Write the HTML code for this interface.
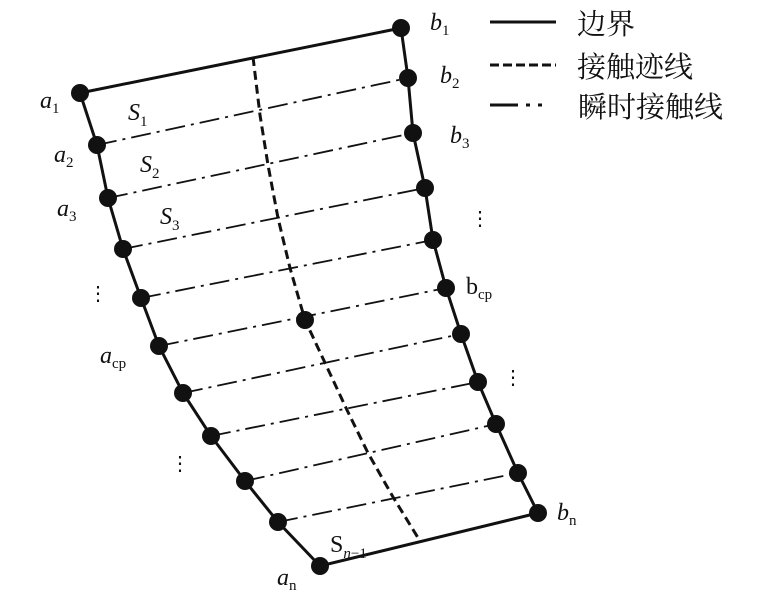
<!DOCTYPE html>
<html><head><meta charset="utf-8"><style>
html,body{margin:0;padding:0;background:#fff;}
svg{display:block}
.l{font-family:"Liberation Serif",serif;font-style:italic;font-size:24px;fill:#111}
.s{font-size:15px;font-style:normal}
.c{font-family:"Liberation Serif","Noto Serif CJK SC",serif;font-size:29px;fill:#111}
</style></head><body>
<svg width="764" height="598" viewBox="0 0 764 598">
<g stroke="#111" fill="none">
<polyline stroke-width="3" points="80,93 97,145 108,198 123,249 141,298 159,346 183,393 211,436 245,481 278,522 320,566 538,513 518,473 496,424 478,382 461,334 446,288 433,240 425,188 413,133 408,78 401,28 80,93"/>
<polyline stroke-width="3" stroke-dasharray="9,5" points="253,57 260,115 268,165 278,218 290,268 305,320 347,410 368,453 393,497 420,541"/>
<g stroke-width="1.8" stroke-dasharray="20,6,3,6">
<line x1="97" y1="145" x2="408" y2="78"/>
<line x1="108" y1="198" x2="413" y2="133"/>
<line x1="123" y1="249" x2="425" y2="188"/>
<line x1="141" y1="298" x2="433" y2="240"/>
<line x1="159" y1="346" x2="446" y2="288"/>
<line x1="183" y1="393" x2="461" y2="334"/>
<line x1="211" y1="436" x2="478" y2="382"/>
<line x1="245" y1="481" x2="496" y2="424"/>
<line x1="278" y1="522" x2="518" y2="473"/>
</g>
<line x1="490" y1="22" x2="556" y2="22" stroke-width="3"/>
<line x1="490" y1="65" x2="556" y2="65" stroke-width="3" stroke-dasharray="9,4"/>
<line x1="490" y1="105" x2="556" y2="105" stroke-width="3" stroke-dasharray="28,8,4,8,4,20"/>
</g>
<g fill="#111">
<circle cx="80" cy="93" r="9"/><circle cx="97" cy="145" r="9"/><circle cx="108" cy="198" r="9"/><circle cx="123" cy="249" r="9"/><circle cx="141" cy="298" r="9"/><circle cx="159" cy="346" r="9"/><circle cx="183" cy="393" r="9"/><circle cx="211" cy="436" r="9"/><circle cx="245" cy="481" r="9"/><circle cx="278" cy="522" r="9"/><circle cx="320" cy="566" r="9"/>
<circle cx="401" cy="28" r="9"/><circle cx="408" cy="78" r="9"/><circle cx="413" cy="133" r="9"/><circle cx="425" cy="188" r="9"/><circle cx="433" cy="240" r="9"/><circle cx="446" cy="288" r="9"/><circle cx="461" cy="334" r="9"/><circle cx="478" cy="382" r="9"/><circle cx="496" cy="424" r="9"/><circle cx="518" cy="473" r="9"/><circle cx="538" cy="513" r="9"/>
<circle cx="305" cy="320" r="9"/>
</g>
<g class="l">
<text x="40" y="108">a<tspan class="s" dy="5">1</tspan></text>
<text x="54" y="162">a<tspan class="s" dy="5">2</tspan></text>
<text x="57" y="216">a<tspan class="s" dy="5">3</tspan></text>
<text x="100" y="363">a<tspan class="s" dy="5">cp</tspan></text>
<text x="277" y="585">a<tspan class="s" dy="5">n</tspan></text>
<text x="430" y="30">b<tspan class="s" dy="5">1</tspan></text>
<text x="440" y="83">b<tspan class="s" dy="5">2</tspan></text>
<text x="450" y="143">b<tspan class="s" dy="5">3</tspan></text>
<text x="466" y="294" style="font-style:normal">b<tspan class="s" dy="5">cp</tspan></text>
<text x="557" y="520">b<tspan class="s" dy="5">n</tspan></text>
<text x="128" y="120">S<tspan class="s" dy="6">1</tspan></text>
<text x="140" y="172">S<tspan class="s" dy="6">2</tspan></text>
<text x="160" y="224">S<tspan class="s" dy="6">3</tspan></text>
<text x="330" y="552" style="font-style:normal">S<tspan class="s" dy="6" style="font-style:italic">n</tspan><tspan class="s" dy="0">−1</tspan></text>
<text x="88" y="300" style="font-style:normal;font-size:20px">⋮</text>
<text x="170" y="470" style="font-style:normal;font-size:20px">⋮</text>
<text x="470" y="225" style="font-style:normal;font-size:20px">⋮</text>
<text x="503" y="384" style="font-style:normal;font-size:20px">⋮</text>
</g>
<g class="c">
<text x="577" y="34">边界</text>
<text x="577" y="77">接触迹线</text>
<text x="578" y="117">瞬时接触线</text>
</g>
</svg>
</body></html>
